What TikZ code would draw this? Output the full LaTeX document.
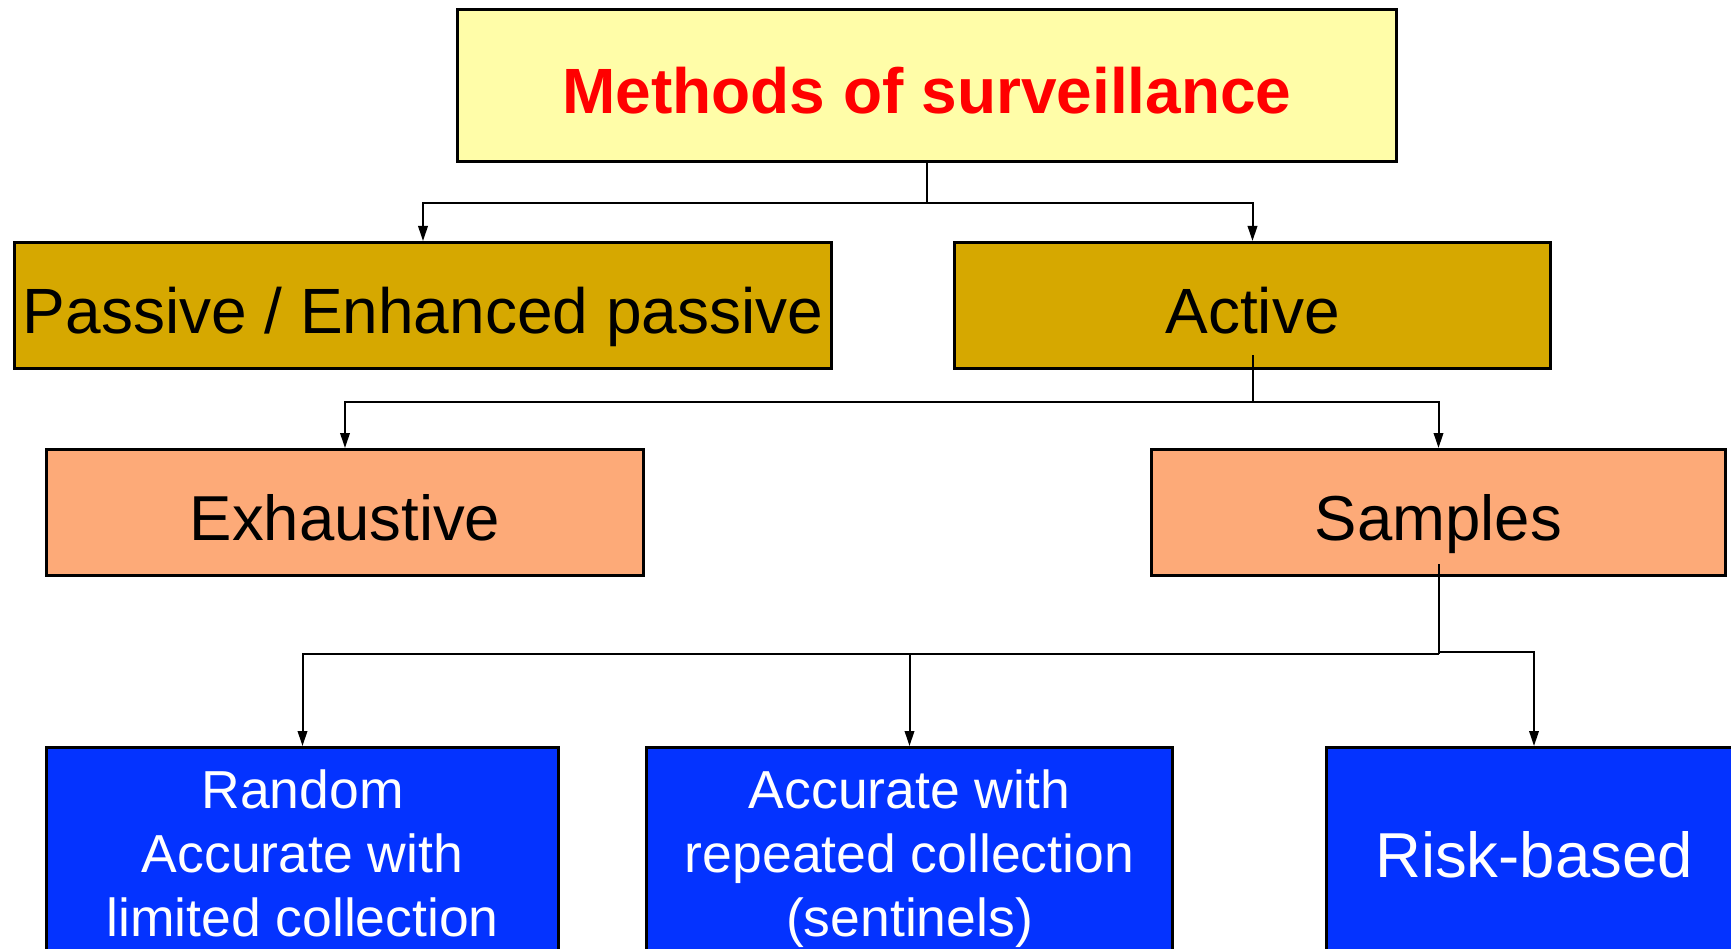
\documentclass[tikz,border=0pt]{standalone}
\usepackage{fontspec}
\setmainfont{Liberation Sans}
\usetikzlibrary{arrows.meta}

\definecolor{titlefill}{HTML}{FFFDA8}
\definecolor{titletext}{HTML}{FF0000}
\definecolor{goldfill}{HTML}{D6A800}
\definecolor{salmonfill}{HTML}{FDAA78}
\definecolor{bluefill}{HTML}{0433FF}

\tikzset{
  box/.style={draw=black, line width=3pt, rectangle, inner sep=0pt, anchor=center},
  titlebox/.style={box, fill=titlefill, text=titletext,
    font=\fontsize{64}{77}\selectfont\bfseries, text height=56pt, text depth=0pt},
  levelone/.style={box, fill=goldfill, minimum height=126pt,
    font=\fontsize{64}{77}\selectfont, text height=57pt, text depth=0pt},
  leveltwo/.style={box, fill=salmonfill, minimum height=126pt,
    font=\fontsize{63.5}{76}\selectfont, text height=55pt, text depth=0pt},
  leafbox/.style={box, fill=bluefill, text=white, minimum height=212.5pt,
    font=\fontsize{53.5}{64}\selectfont, text height=164.5pt, text depth=0pt},
  leafsingle/.style={leafbox, font=\fontsize{63.5}{76}\selectfont,
    text height=48pt, text depth=0pt},
  link/.style={draw=black, line width=2pt},
  arrowlink/.style={link, -{Triangle[length=15pt, width=9.5pt]}}
}

\begin{document}
\begin{tikzpicture}[x=1pt, y=-1pt]
  \useasboundingbox (0,0) rectangle (1731,949);

  % root
  \node[titlebox, minimum width=939pt, minimum height=152pt] (root) at (927,85.5)
    {Methods of surveillance};

  % first level
  \node[levelone, minimum width=817pt] (passive) at (423,305.5)
    {Passive / Enhanced passive};
  \node[levelone, minimum width=596pt] (active) at (1252.5,305.5) {Active};

  % second level
  \node[leveltwo, minimum width=597pt] (exhaustive) at (345,512.5) {Exhaustive};
  \node[leveltwo, minimum width=574pt] (samples) at (1438.5,512.5) {Samples};

  % sampling strategies
  \node[leafbox, minimum width=512pt] (random) at (302.5,853.75)
    {\begin{tabular}[b]{@{}c@{}}Random\\Accurate with\\limited collection\end{tabular}};
  \node[leafbox, minimum width=526pt] (sentinel) at (909.5,853.75)
    {\begin{tabular}[b]{@{}c@{}}Accurate with\\repeated collection\\(sentinels)\end{tabular}};
  \node[leafsingle, minimum width=416pt] (risk) at (1534,853.75) {Risk-based};

  % junction points of the tree
  \coordinate (j1) at (927,203);
  \coordinate (a0) at (1252.5,355);
  \coordinate (j2) at (1252.5,402);
  \coordinate (s0) at (1438.5,564);
  \coordinate (j3) at (1438.5,654);
  \coordinate (j3m) at (909.5,654);
  \coordinate (j3r) at (1438.5,652);

  % root -> first level
  \draw[link] (root.south) -- (j1);
  \draw[arrowlink] (j1) -| (passive.north);
  \draw[arrowlink] (j1) -| (active.north);

  % active -> second level
  \draw[link] (a0) -- (j2);
  \draw[arrowlink] (j2) -| (exhaustive.north);
  \draw[arrowlink] (j2) -| (samples.north);

  % samples -> strategies
  \draw[link] (s0) -- (j3);
  \draw[arrowlink] (j3) -| (random.north);
  \draw[arrowlink] (j3m) -- (sentinel.north);
  \draw[arrowlink] (j3r) -| (risk.north);
\end{tikzpicture}
\end{document}
